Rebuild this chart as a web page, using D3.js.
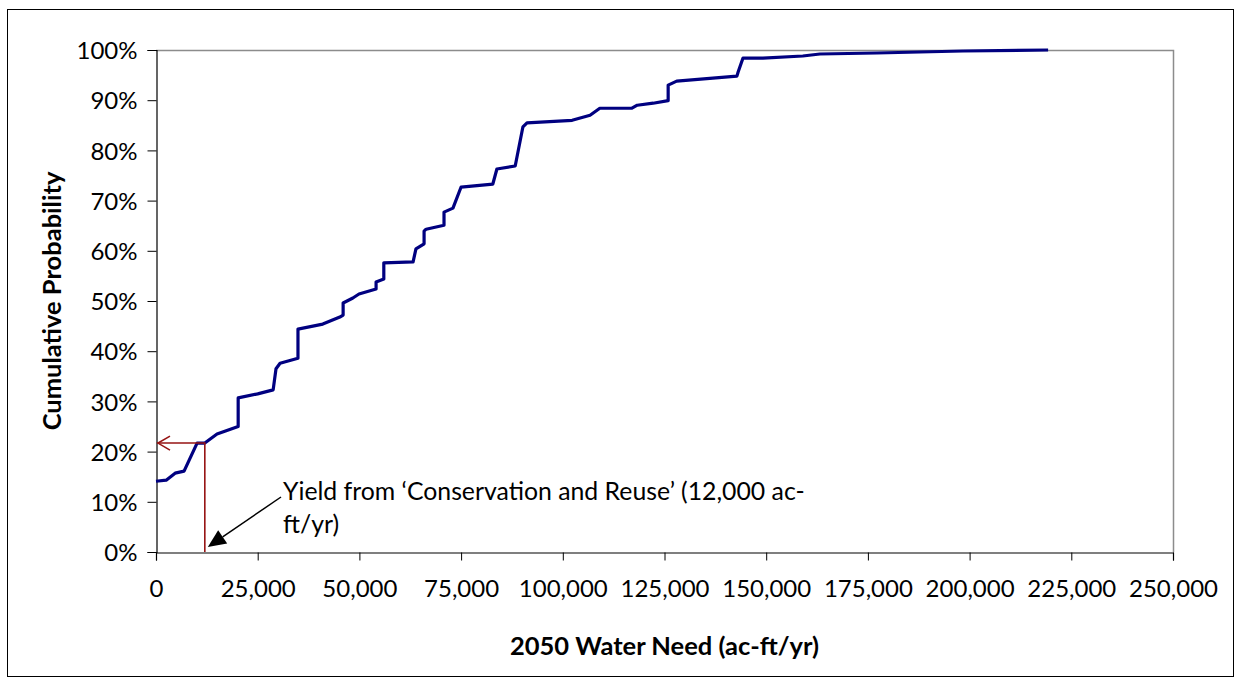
<!DOCTYPE html>
<html>
<head>
<meta charset="utf-8">
<script src="https://cdn.jsdelivr.net/npm/d3@7"></script>
<style>
  html, body { margin: 0; padding: 0; background: #fff; }
  svg { display: block; }
  text { font-family: Lato, "Open Sans", sans-serif; fill: #000; }
</style>
</head>
<body>
<svg id="chart" width="1236" height="680"></svg>
<script>
// ---- data ----
const waterNeed = [0, 2500, 4700, 6900, 10100, 12000, 15000, 20200, 20200, 25000, 28800, 29500, 30500,
  34900, 34900, 41000, 45200, 46000, 46000, 48400, 49900, 54100, 54100, 56000, 56000, 63200, 63900,
  65900, 65900, 66400, 70800, 70800, 73000, 75000, 82800, 83800, 88300, 90200, 91200, 102300, 106700,
  109100, 117000, 118300, 122200, 125900, 125900, 128000, 142800, 143100, 144300, 149200, 159000,
  163200, 177200, 198400, 219300];
const cumProb = [14.1, 14.3, 15.7, 16.1, 21.7, 21.7, 23.5, 25.0, 30.7, 31.5, 32.3, 36.5, 37.6,
  38.6, 44.4, 45.4, 46.8, 47.2, 49.6, 50.6, 51.4, 52.4, 53.8, 54.4, 57.6, 57.8, 60.4,
  61.4, 63.9, 64.3, 65.1, 67.7, 68.5, 72.7, 73.3, 76.3, 76.9, 84.7, 85.5, 86.0, 87.0,
  88.4, 88.4, 89.0, 89.4, 89.9, 93.0, 93.8, 94.8, 95.6, 98.4, 98.4, 98.8,
  99.2, 99.4, 99.8, 100];
const xTicks = [0, 25000, 50000, 75000, 100000, 125000, 150000, 175000, 200000, 225000, 250000];
const yTicks = [0, 10, 20, 30, 40, 50, 60, 70, 80, 90, 100];
const yieldValue = 12000;
const yieldProb = 21.7;
const xTitle = "2050 Water Need (ac-ft/yr)";
const yTitle = "Cumulative Probability";
const noteLines = ["Yield from \u2018Conservation and Reuse\u2019 (12,000 ac-", "ft/yr)"];

// ---- layout ----
const svg = d3.select("#chart");
const L = 156, R = 1173, T = 50, B = 552;
const x = d3.scaleLinear().domain([0, 250000]).range([L, R]);
const y = d3.scaleLinear().domain([0, 100]).range([B, T]);

// outer border
svg.append("rect").attr("x", 7.5).attr("y", 9.5).attr("width", 1226).attr("height", 667)
  .attr("fill", "#fff").attr("stroke", "#000").attr("stroke-width", 1);

// plot area border (top/right gray)
svg.append("path").attr("d", `M${L},${T + 0.5}H${R + 0.5}V${B}`)
  .attr("fill", "none").attr("stroke", "#8c8c8c").attr("stroke-width", 1.5);

// axes
const fmt = d3.format(",");
const xAxis = svg.append("g").attr("transform", `translate(0,${B + 0.5})`)
  .call(d3.axisBottom(x).tickValues(xTicks).tickFormat(d => fmt(d)).tickSize(8).tickPadding(22));
const yAxis = svg.append("g").attr("transform", `translate(${L + 0.5},0)`)
  .call(d3.axisLeft(y).tickValues(yTicks).tickFormat(d => d + "%").tickSize(9).tickPadding(10));
[xAxis, yAxis].forEach(g => {
  g.select(".domain").attr("stroke", "#000").attr("stroke-width", 1.2);
  g.selectAll(".tick line").attr("stroke", "#000");
  g.selectAll(".tick text").attr("font-family", "Lato, sans-serif").attr("font-size", 24).attr("fill", "#000");
});
xAxis.selectAll(".tick text").attr("dy", "0.6em");
yAxis.selectAll(".tick text").attr("dy", "0.36em");

// titles
svg.append("text").attr("x", (L + R) / 2).attr("y", 655).attr("text-anchor", "middle")
  .attr("font-weight", "bold").attr("font-size", 25.5).text(xTitle);
svg.append("text").attr("transform", `translate(61,${(T + B) / 2}) rotate(-90)`)
  .attr("text-anchor", "middle").attr("font-weight", "bold").attr("font-size", 25.5).text(yTitle);

// curve
const line = d3.line().x((d, i) => x(waterNeed[i])).y((d, i) => y(cumProb[i]));
svg.append("path").datum(cumProb).attr("d", line)
  .attr("fill", "none").attr("stroke", "#000080").attr("stroke-width", 3.2)
  .attr("stroke-linejoin", "round");

// red yield lines
const red = "#961414";
svg.append("path")
  .attr("d", `M${x(yieldValue)},${B}V${y(yieldProb)}H${x(0) + 1}`)
  .attr("fill", "none").attr("stroke", red).attr("stroke-width", 1.6);
svg.append("path")
  .attr("d", `M${x(0) + 14},${y(yieldProb) - 7}L${x(0) + 2},${y(yieldProb)}L${x(0) + 14},${y(yieldProb) + 7}`)
  .attr("fill", "none").attr("stroke", red).attr("stroke-width", 1.6);

// black annotation arrow
const tipX = x(yieldValue) + 3, tipY = B - 5;
const sx = 281, sy = 497;
const ang = Math.atan2(sy - tipY, sx - tipX);
const hl = 18, hw = 8;
const bx = tipX + hl * Math.cos(ang), by = tipY + hl * Math.sin(ang);
svg.append("line").attr("x1", sx).attr("y1", sy).attr("x2", bx).attr("y2", by)
  .attr("stroke", "#000").attr("stroke-width", 1.5);
svg.append("path")
  .attr("d", `M${tipX},${tipY}L${bx + hw * Math.sin(ang)},${by - hw * Math.cos(ang)}L${bx - hw * Math.sin(ang)},${by + hw * Math.cos(ang)}Z`)
  .attr("fill", "#000");

// note text
svg.append("text").attr("x", 283).attr("y", 500).attr("font-size", 24.8).text(noteLines[0]);
svg.append("text").attr("x", 283).attr("y", 533).attr("font-size", 24.8).text(noteLines[1]);
</script>
</body>
</html>
